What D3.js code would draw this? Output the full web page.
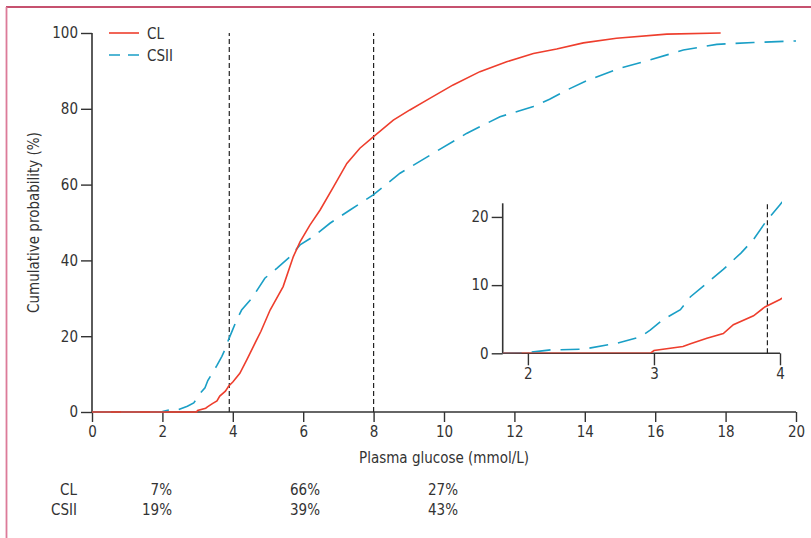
<!DOCTYPE html>
<html>
<head>
<meta charset="utf-8">
<script src="https://cdn.jsdelivr.net/npm/d3@7/dist/d3.min.js"></script>
<style>
  html, body { margin: 0; padding: 0; background: #fff; }
  svg text { font-family: "Liberation Sans Narrow", "DejaVu Sans Condensed", "Open Sans", sans-serif; fill: #333; }
</style>
</head>
<body>
<svg id="chart" width="811" height="538"></svg>
<script>
// ---------- data ----------
const seriesNames = ["CL", "CSII"];
const clX = [0, 2.97, 3.0, 3.23, 3.29, 3.42, 3.55, 3.63, 3.79, 3.88, 4.0, 4.2, 4.4, 4.6, 4.8, 5.06, 5.43, 5.72, 5.91, 6.19, 6.48, 6.86, 7.24, 7.61, 7.99, 8.56, 9.03, 9.51, 10.26, 11.02, 11.78, 12.54, 13.2, 13.96, 14.9, 16.33, 17.86];
const clY = [0, 0, 0.4, 1.0, 1.4, 2.2, 2.9, 4.2, 5.5, 6.8, 7.9, 10.2, 13.8, 17.6, 21.3, 26.9, 33.1, 41, 44.9, 49.3, 53.3, 59.4, 65.6, 69.6, 72.6, 77, 79.7, 82.3, 86.3, 89.8, 92.4, 94.6, 95.8, 97.4, 98.6, 99.7, 100];
const csiiX = [0, 1.8, 2.0, 2.18, 2.44, 2.71, 2.89, 2.97, 3.07, 3.21, 3.29, 3.42, 3.55, 3.69, 3.79, 3.88, 4.0, 4.11, 4.25, 4.54, 4.91, 5.25, 5.63, 5.91, 6.29, 6.76, 7.33, 7.99, 8.75, 9.7, 10.64, 11.59, 12.54, 13.0, 13.5, 14.1, 15.0, 15.85, 16.8, 17.75, 18.79, 20];
const csiiY = [0, 0, 0.1, 0.5, 0.6, 1.5, 2.4, 3.4, 4.9, 6.4, 8.3, 10.3, 12.3, 14.7, 16.7, 19.1, 21.8, 24.3, 26.9, 30, 35.3, 37.9, 41, 44.1, 46.3, 49.8, 53.3, 57.3, 63, 68.3, 73.5, 77.9, 80.6, 82.5, 85, 87.6, 90.7, 92.9, 95.5, 97, 97.5, 97.9];
const thresholds = [3.9, 8.0];
const xTicks = [0, 2, 4, 6, 8, 10, 12, 14, 16, 18, 20];
const yTicks = [0, 20, 40, 60, 80, 100];
const insetXTicks = [2, 3, 4];
const insetYTicks = [0, 10, 20];
const tableRows = ["CL", "CSII"];
const tableCL = ["7%", "66%", "27%"];
const tableCSII = ["19%", "39%", "43%"];

const colors = { CL: "#ee3e2d", CSII: "#1a9fc6" };
const axisColor = "#333";

const svg = d3.select("#chart");

// frame
svg.append("line").attr("x1", 6).attr("x2", 811).attr("y1", 7).attr("y2", 7)
  .attr("stroke", "#b3173f").attr("stroke-width", 1.5);
svg.append("line").attr("x1", 6.5).attr("x2", 6.5).attr("y1", 7).attr("y2", 538)
  .attr("stroke", "#dc7b99").attr("stroke-width", 1.8);

// ---------- main chart ----------
const x = d3.scaleLinear().domain([0, 20]).range([92, 796]);
const y = d3.scaleLinear().domain([0, 100]).range([412, 33]);

const fontSize = 15;

const xAxis = svg.append("g").attr("transform", `translate(0,${y(0)})`)
  .call(d3.axisBottom(x).tickValues(xTicks).tickSize(10).tickPadding(4).tickFormat(d3.format("d")));
const yAxis = svg.append("g").attr("transform", `translate(${x(0)},0)`)
  .call(d3.axisLeft(y).tickValues(yTicks).tickSize(11).tickPadding(3).tickFormat(d3.format("d")));
[xAxis, yAxis].forEach(g => {
  g.select(".domain").attr("stroke", axisColor).attr("stroke-width", 1.6);
  g.selectAll(".tick line").attr("stroke", axisColor).attr("stroke-width", 1.4);
  g.selectAll(".tick text").attr("font-size", fontSize).style("fill", "#333");
});
yAxis.select(".domain").attr("d", `M0,${y(0)}V${y(100)}`);
xAxis.select(".domain").attr("d", `M${x(0)},0H${x(20)}`);

// threshold lines
svg.append("g").selectAll("line").data(thresholds).join("line")
  .attr("x1", d => x(d)).attr("x2", d => x(d))
  .attr("y1", y(0)).attr("y2", y(100))
  .attr("stroke", "#222").attr("stroke-width", 1.2).attr("stroke-dasharray", "5,3");

const mkData = (xs, ys) => xs.map((v, i) => [v, ys[i]]);
const clData = mkData(clX, clY);
const csiiData = mkData(csiiX, csiiY);

const line = d3.line().x(d => x(d[0])).y(d => y(d[1]));
svg.append("path").datum(csiiData).attr("d", line).attr("fill", "none")
  .attr("stroke", colors.CSII).attr("stroke-width", 1.6).attr("stroke-dasharray", "19,10");
svg.append("path").datum(clData).attr("d", line).attr("fill", "none")
  .attr("stroke", colors.CL).attr("stroke-width", 1.6);

// axis labels
svg.append("text").attr("x", (x(0) + x(20)) / 2).attr("y", 463).attr("text-anchor", "middle")
  .attr("font-size", fontSize).text("Plasma glucose (mmol/L)");
svg.append("text").attr("transform", `translate(39,${(y(0) + y(100)) / 2}) rotate(-90)`)
  .attr("text-anchor", "middle").attr("font-size", fontSize).text("Cumulative probability (%)");

// legend
const legend = svg.append("g");
seriesNames.forEach((name, i) => {
  const ly = 33 + i * 22;
  legend.append("line").attr("x1", 109).attr("x2", 139).attr("y1", ly).attr("y2", ly)
    .attr("stroke", colors[name]).attr("stroke-width", 1.6)
    .attr("stroke-dasharray", name === "CSII" ? "11,8" : null);
  legend.append("text").attr("x", 147).attr("y", ly + 5.5).attr("font-size", fontSize).text(name);
});

// ---------- inset ----------
const ix = d3.scaleLinear().domain([1.8, 4]).range([502.7, 780]);
const iy = d3.scaleLinear().domain([0, 22]).range([353.3, 203.3]);
svg.append("clipPath").attr("id", "insetClip").append("rect")
  .attr("x", ix(1.8)).attr("y", iy(22) - 2).attr("width", ix(4) - ix(1.8) + 2).attr("height", iy(0) - iy(22) + 2);

const ixAxis = svg.append("g").attr("transform", `translate(0,${iy(0)})`)
  .call(d3.axisBottom(ix).tickValues(insetXTicks).tickSize(12).tickPadding(3).tickFormat(d3.format("d")));
const iyAxis = svg.append("g").attr("transform", `translate(${ix(1.8)},0)`)
  .call(d3.axisLeft(iy).tickValues(insetYTicks).tickSize(11).tickPadding(3).tickFormat(d3.format("d")));
[ixAxis, iyAxis].forEach(g => {
  g.select(".domain").attr("stroke", axisColor).attr("stroke-width", 1.6);
  g.selectAll(".tick line").attr("stroke", axisColor).attr("stroke-width", 1.4);
  g.selectAll(".tick text").attr("font-size", fontSize).style("fill", "#333");
});
iyAxis.select(".domain").attr("d", `M0,${iy(0)}V${iy(22)}`);
ixAxis.select(".domain").attr("d", `M${ix(1.8)},0H${ix(4)}`);

svg.append("line").attr("x1", ix(thresholds[0])).attr("x2", ix(thresholds[0]))
  .attr("y1", iy(0)).attr("y2", iy(22))
  .attr("stroke", "#222").attr("stroke-width", 1.2).attr("stroke-dasharray", "5,3");

const iline = d3.line().x(d => ix(d[0])).y(d => iy(d[1]));
const insetG = svg.append("g").attr("clip-path", "url(#insetClip)");
insetG.append("path").datum(csiiData.filter(d => d[0] >= 1.8 && d[0] <= 4.2)).attr("d", iline).attr("fill", "none")
  .attr("stroke", colors.CSII).attr("stroke-width", 1.6).attr("stroke-dasharray", "19,10");
insetG.append("path").datum(clData.filter(d => d[0] >= 1.8 || d[0] === 0).map(d => d[0] < 1.8 ? [1.8, d[1]] : d)).attr("d", iline).attr("fill", "none")
  .attr("stroke", colors.CL).attr("stroke-width", 1.6);

// ---------- table ----------
const colX = [172, 320, 458];
const rowY = [495, 515];
tableRows.forEach((name, r) => {
  svg.append("text").attr("x", 77).attr("y", rowY[r]).attr("text-anchor", "end")
    .attr("font-size", fontSize).text(name);
  const vals = r === 0 ? tableCL : tableCSII;
  vals.forEach((v, c) => {
    svg.append("text").attr("x", colX[c]).attr("y", rowY[r]).attr("text-anchor", "end")
      .attr("font-size", fontSize).text(v);
  });
});
</script>
</body>
</html>
